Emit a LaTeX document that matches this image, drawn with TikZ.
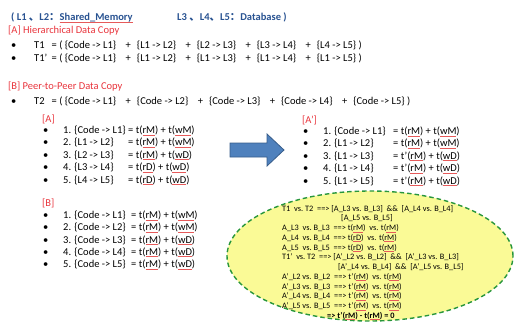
\documentclass[tikz,border=0pt]{standalone}
\usepackage{fontspec}
\setmainfont{Carlito}
\newfontfamily\cjkf{Noto Sans CJK SC}
\usetikzlibrary{shapes.geometric}

\definecolor{hdrblue}{RGB}{40,82,145}
\definecolor{secred}{RGB}{232,52,60}
\definecolor{sqred}{RGB}{230,90,90}
\definecolor{arrfill}{RGB}{79,129,189}
\definecolor{arrline}{RGB}{56,93,138}
\definecolor{ovfill}{RGB}{250,250,150}
\definecolor{ovline}{RGB}{40,150,60}

% thin red spell-check style underline, text keeps its colour
\newsavebox\sqbox
\newcommand\sq[1]{\sbox\sqbox{#1}\rlap{\color{sqred}\rule[-1.4pt]{\wd\sqbox}{0.35pt}}\usebox\sqbox}
% gap, plus sign, gap between copy terms
\newcommand\pl{\hspace{9.5pt}+\hspace{6pt}}

\begin{document}
\begin{tikzpicture}[x=1pt,y=-1pt,
  txt/.style={anchor=base west, inner sep=0pt, font=\fontsize{10.5}{12}\selectfont},
  sect/.style={txt, text=secred},
  hdr/.style={txt, text=hdrblue, font=\fontsize{10.5}{12}\selectfont\bfseries},
  small/.style={anchor=base west, inner sep=0pt, font=\fontsize{8.3}{9}\selectfont},
  oval/.style={ellipse, draw=ovline, fill=ovfill, line width=1.4pt,
    dash pattern=on 4.5pt off 3pt, inner sep=0pt}]
\useasboundingbox (0,0) rectangle (515,322);

% header
\node[hdr] (hdrL) at (11,20.5) {( L1 {\cjkf 、}L2{\cjkf ：}\sq{Shared\_Memory}};
\node[hdr] (hdrR) at (177,20.5) {L3 {\cjkf 、}L4{\cjkf 、}L5{\cjkf ：}Database )};

% [A] hierarchical copy
\node[sect] (secA) at (8,33.5) {[A] Hierarchical Data Copy};
\node[txt] (bT1) at (11,48.5) {\textbullet};
\node[txt] (T1) at (34,48.5) {\makebox[17.5pt][l]{T1}= ( \{Code -> L1\}\pl\{L1 -> L2\}\pl\{L2 -> L3\}\pl\{L3 -> L4\}\pl\{L4 -> L5\} )};
\node[txt] (bT1p) at (11,61.5) {\textbullet};
\node[txt] (T1p) at (34,61.5) {\makebox[17.5pt][l]{T1'}= ( \{Code -> L1\}\pl\{L1 -> L2\}\pl\{L1 -> L3\}\pl\{L1 -> L4\}\pl\{L1 -> L5\} )};

% [B] peer-to-peer copy
\node[sect] (secB) at (8,89.5) {[B] Peer-to-Peer Data Copy};
\node[txt] (bT2) at (11,104.5) {\textbullet};
\node[txt] (T2) at (34,104.5) {\makebox[17.5pt][l]{T2}= ( \{Code -> L1\}\pl\{Code -> L2\}\pl\{Code -> L3\}\pl\{Code -> L4\}\pl\{Code -> L5\} )};

% list [A]
\node[sect] (lA) at (42,122.5) {[A]};
\foreach \i/\lhs/\rhs in {
  1/{1. \{Code -> L1\}}/{= t(\sq{rM}) + t(\sq{wM})},
  2/{2. \{L1 -> L2\}}/{= t(\sq{rM}) + t(\sq{wM})},
  3/{3. \{L2 -> L3\}}/{= t(\sq{rM}) + t(\sq{wD})},
  4/{4. \{L3 -> L4\}}/{= t(\sq{rD}) + t(\sq{wD})},
  5/{5. \{L4 -> L5\}}/{= t(\sq{rD}) + t(\sq{wD})}} {
  \node[txt] (Ab\i) at (43,{133.5+12.4*(\i-1)}) {\textbullet};
  \node[txt] (Al\i) at (63,{133.5+12.4*(\i-1)}) {\lhs};
  \node[txt] (Ar\i) at (128,{133.5+12.4*(\i-1)}) {\rhs};
}

% list [A']
\node[sect] (lAp) at (302,123.5) {[A']};
\foreach \i/\lhs/\rhs in {
  1/{1. \{Code -> L1\}}/{= t(\sq{rM}) + t(\sq{wM})},
  2/{2. \{L1 -> L2\}}/{= t(\sq{rM}) + t(\sq{wM})},
  3/{3. \{L1 -> L3\}}/{= t'(\sq{rM}) + t(\sq{wD})},
  4/{4. \{L1 -> L4\}}/{= t'(\sq{rM}) + t(\sq{wD})},
  5/{5. \{L1 -> L5\}}/{= t'(\sq{rM}) + t(\sq{wD})}} {
  \node[txt] (Pb\i) at (303,{134.5+12.4*(\i-1)}) {\textbullet};
  \node[txt] (Pl\i) at (323,{134.5+12.4*(\i-1)}) {\lhs};
  \node[txt] (Pr\i) at (393,{134.5+12.4*(\i-1)}) {\rhs};
}

% list [B]
\node[sect] (lB) at (42,206) {[B]};
\foreach \i/\lhs/\rhs in {
  1/{1. \{Code -> L1\}}/{= t(\sq{rM}) + t(\sq{wM})},
  2/{2. \{Code -> L2\}}/{= t(\sq{rM}) + t(\sq{wM})},
  3/{3. \{Code -> L3\}}/{= t(\sq{rM}) + t(\sq{wD})},
  4/{4. \{Code -> L4\}}/{= t(\sq{rM}) + t(\sq{wD})},
  5/{5. \{Code -> L5\}}/{= t(\sq{rM}) + t(\sq{wD})}} {
  \node[txt] (Bb\i) at (43,{218.5+12.3*(\i-1)}) {\textbullet};
  \node[txt] (Bl\i) at (63,{218.5+12.3*(\i-1)}) {\lhs};
  \node[txt] (Br\i) at (131,{218.5+12.3*(\i-1)}) {\rhs};
}

% block arrow from [A] to [A']
\draw[fill=arrfill, draw=arrline, line width=0.8pt]
  (230,143) -- (267,143) -- (267,134) -- (284,150) -- (267,166) -- (267,157) -- (230,157) -- cycle;

% comparison oval
\node[oval, minimum width=286pt, minimum height=130pt] (cmp) at (370,256) {};
\node[small] (e1) at (282,211) {T1\ \ vs.\ T2\ \ ==> [A\_L3 vs. B\_L3]\ \ \&\&\ \ [A\_L4 vs. B\_L4]};
\node[small] (e2) at (341,220.75) {[A\_L5 vs. B\_L5]};
\node[small] (e3) at (282,230.5) {A\_L3\ \ vs.\ B\_L3\ \ ==> t(\sq{rM})\ \ vs. t(\sq{rM})};
\node[small] (e4) at (282,240.25) {A\_L4\ \ vs.\ B\_L4\ \ ==> t(\sq{rD})\ \ vs. t(\sq{rM})};
\node[small] (e5) at (282,250) {A\_L5\ \ vs.\ B\_L5\ \ ==> t(\sq{rD})\ \ vs. t(\sq{rM})};
\node[small] (e6) at (282,259.75) {T1'\ \ vs.\ T2\ \ ==> [A'\_L2 vs. B\_L2]\ \ \&\&\ \ [A'\_L3 vs. B\_L3]};
\node[small] (e7) at (338,269.5) {[A'\_L4 vs. B\_L4]\ \ \&\&\ \ [A'\_L5 vs. B\_L5]};
\node[small] (e8) at (282,279.25) {A'\_L2 vs. B\_L2\ \ ==> t'(\sq{rM})\ \ vs. t(\sq{rM})};
\node[small] (e9) at (282,289) {A'\_L3 vs. B\_L3\ \ ==> t'(\sq{rM})\ \ vs. t(\sq{rM})};
\node[small] (e10) at (282,298.75) {A'\_L4 vs. B\_L4\ \ ==> t'(\sq{rM})\ \ vs. t(\sq{rM})};
\node[small] (e11) at (282,308.5) {A'\_L5 vs. B\_L5\ \ ==> t'(\sq{rM})\ \ vs. t(\sq{rM})};
\node[small, font=\fontsize{8.3}{9}\selectfont\bfseries] (e12) at (327,318.25) {=> t'(\sq{rM}) - t(\sq{rM}) = 0};
\end{tikzpicture}
\end{document}
